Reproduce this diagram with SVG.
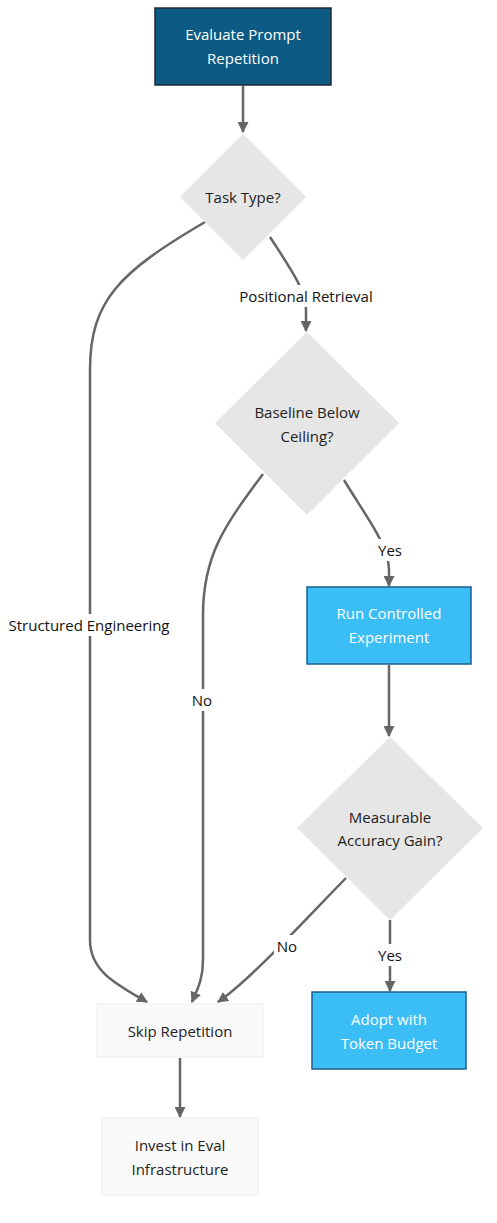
<svg xmlns="http://www.w3.org/2000/svg" width="497" height="1223" viewBox="0 0 497 1223">
<style>
text{font-family:"Open Sans","DejaVu Sans",sans-serif;font-size:15px;text-anchor:middle;dominant-baseline:central}
.w{fill:#ffffff;font-weight:500}
.d{fill:#222222}
.k{fill:#111111}
.e{fill:none;stroke:#666666;stroke-width:2.5}
.dia{fill:#e6e6e6}
.lbl{fill:#ffffff}
</style>
<defs>
<marker id="ah" viewBox="0 0 10 10" refX="9" refY="5" markerWidth="4.4" markerHeight="4.4" orient="auto" markerUnits="strokeWidth">
<path d="M0,0 L10,5 L0,10 z" fill="#666666"/>
</marker>
</defs>
<rect width="497" height="1223" fill="#ffffff"/>
<g id="edges">
<path class="e" d="M243,86 L243,132" marker-end="url(#ah)"/>
<path class="e" d="M205,222 C120,272 90,300 90,370 L90,940 C90,972 118,985 147,1002" marker-end="url(#ah)"/>
<path class="e" d="M270,237 C290,268 306,290 306,310 L306,331" marker-end="url(#ah)"/>
<path class="e" d="M263,474 C225,525 203,555 203,615 L203,960 C203,980 197,990 192,1002" marker-end="url(#ah)"/>
<path class="e" d="M344,480 C365,515 389,545 389,570 L389,586" marker-end="url(#ah)"/>
<path class="e" d="M389,665 L389,736" marker-end="url(#ah)"/>
<path class="e" d="M346,878 C300,925 250,980 218,1002" marker-end="url(#ah)"/>
<path class="e" d="M390,920 L390,991" marker-end="url(#ah)"/>
<path class="e" d="M180,1058 L180,1117" marker-end="url(#ah)"/>
<rect class="lbl" x="6" y="614" width="168" height="22"/>
<text class="k" x="89" y="625">Structured Engineering</text>
<rect class="lbl" x="234" y="285" width="144" height="22"/>
<text class="k" x="306" y="296">Positional Retrieval</text>
<rect class="lbl" x="189" y="689" width="26" height="22"/>
<text class="k" x="202" y="700">No</text>
<rect class="lbl" x="375" y="539" width="30" height="22"/>
<text class="k" x="390" y="550">Yes</text>
<rect class="lbl" x="274" y="935" width="26" height="22"/>
<text class="k" x="287" y="946">No</text>
<rect class="lbl" x="375" y="944" width="30" height="22"/>
<text class="k" x="390" y="955">Yes</text>
</g>
<g id="evaluate">
<rect x="155" y="8" width="176" height="77" fill="#0d5a84" stroke="#1d2b36" stroke-width="1.5"/>
<text class="w" x="243" y="34">Evaluate Prompt</text>
<text class="w" x="243" y="58">Repetition</text>
</g>
<g id="tasktype">
<polygon class="dia" points="243,134 306,197 243,260 180,197"/>
<text class="d" x="243" y="197">Task Type?</text>
</g>
<g id="baseline">
<polygon class="dia" points="307,332 399,423 307,515 215,423"/>
<text class="d" x="307" y="412">Baseline Below</text>
<text class="d" x="307" y="436">Ceiling?</text>
</g>
<g id="runexp">
<rect x="307" y="587" width="164" height="77" fill="#3bbdf6" stroke="#1b5e8c" stroke-width="1.5"/>
<text class="w" x="389" y="613">Run Controlled</text>
<text class="w" x="389" y="637">Experiment</text>
</g>
<g id="measurable">
<polygon class="dia" points="390,737 483,828 390,920 297,828"/>
<text class="d" x="390" y="817">Measurable</text>
<text class="d" x="390" y="840">Accuracy Gain?</text>
</g>
<g id="adopt">
<rect x="312" y="992" width="154" height="77" fill="#3bbdf6" stroke="#1b5e8c" stroke-width="1.5"/>
<text class="w" x="389" y="1019">Adopt with</text>
<text class="w" x="389" y="1043">Token Budget</text>
</g>
<g id="skip">
<rect x="97" y="1004" width="166" height="53" fill="#fafafa" stroke="#eeeeee" stroke-width="1"/>
<text class="d" x="180" y="1031">Skip Repetition</text>
</g>
<g id="invest">
<rect x="102" y="1118" width="156" height="77" fill="#fafafa" stroke="#eeeeee" stroke-width="1"/>
<text class="d" x="180" y="1145">Invest in Eval</text>
<text class="d" x="180" y="1169">Infrastructure</text>
</g>
</svg>
